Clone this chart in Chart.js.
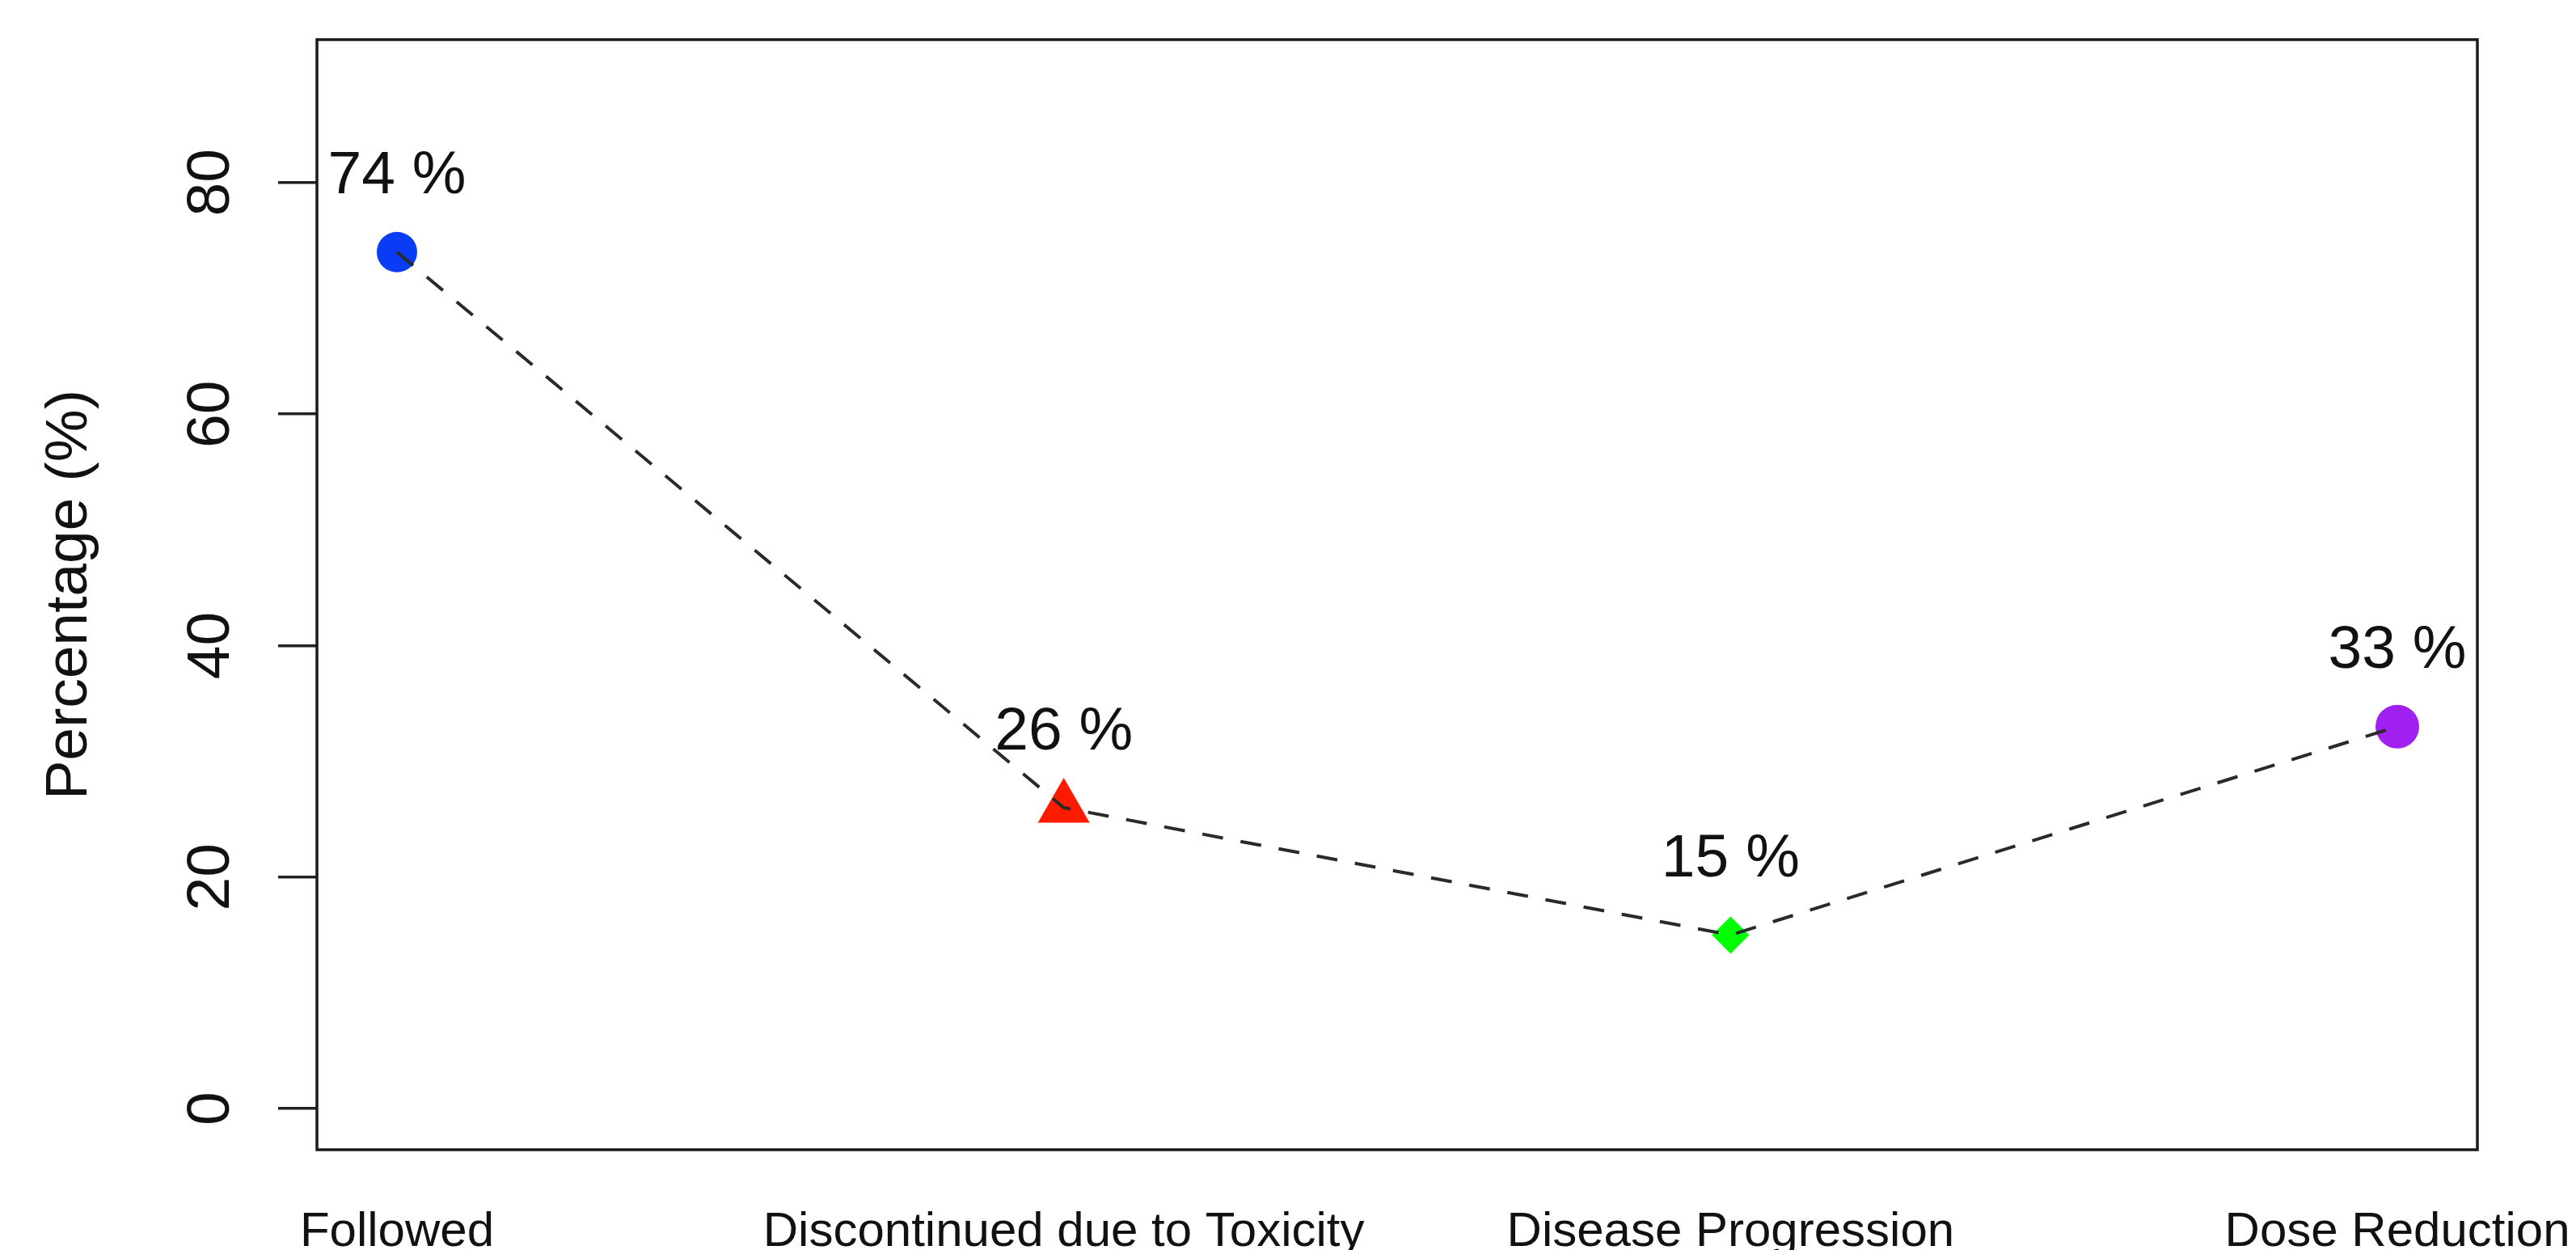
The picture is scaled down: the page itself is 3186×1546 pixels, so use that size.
<!DOCTYPE html>
<html>
<head>
<meta charset="utf-8">
<script src="https://cdn.jsdelivr.net/npm/chart.js@4.4.1/dist/chart.umd.min.js"></script>
<style>
  html, body { margin: 0; padding: 0; background: #ffffff; }
  #wrap { width: 3186px; height: 1546px; }
</style>
</head>
<body>
<div id="wrap"><canvas id="chart" width="3186" height="1546"></canvas></div>
<script>
const categories = ["Followed", "Discontinued due to Toxicity", "Disease Progression", "Dose Reduction"];
const percentages = [74, 26, 15, 33];
const pointLabels = ["74 %", "26 %", "15 %", "33 %"];
const yTicks = [0, 20, 40, 60, 80];
const boxedPoints = [false, true, true, false];

const markerColors = ["#0a3cf5", "#ff1a00", "#00ff00", "#a020f0"];
const markerStyles = ["circle", "triangle", "rectRot", "circle"];
const markerSizes = [25, 37, 23, 27];

const font = '"Liberation Sans", Arial, Helvetica, sans-serif';
const ink = "#111111";

// R-style axis limits: ylim = c(0, max * 1.2), extended by 4% each side
const yTop = Math.max(...percentages) * 1.2;
const yPad = yTop * 0.04;
const xPad = (categories.length - 1) * 0.04;
const labelLift = 6.5;

const points = percentages.map((v, i) => ({ x: i + 1, y: v }));

const framePlugin = {
  id: "frame",
  afterDatasetsDraw(chart) {
    const { ctx, chartArea: a, scales: { x, y } } = chart;
    ctx.save();
    ctx.strokeStyle = "#1a1a1a";
    ctx.lineWidth = 3.5;
    ctx.strokeRect(a.left, a.top, a.right - a.left, a.bottom - a.top);

    ctx.fillStyle = ink;
    ctx.font = `75px ${font}`;
    ctx.textAlign = "center";
    ctx.textBaseline = "middle";
    percentages.forEach((v, i) => {
      ctx.fillText(pointLabels[i], x.getPixelForValue(i + 1), y.getPixelForValue(v + labelLift));
    });
    ctx.restore();
  }
};

new Chart(document.getElementById("chart"), {
  type: "line",
  data: {
    datasets: [
      {
        data: points,
        borderColor: "#2a2a2a",
        borderWidth: 4,
        borderDash: [26, 22],
        pointRadius: 0,
        fill: false,
        tension: 0,
        order: 0
      },
      {
        data: points.map((p, i) => (boxedPoints[i] ? p : null)),
        showLine: false,
        pointStyle: "rect",
        pointRadius: 30,
        pointBorderColor: "#b5b5b5",
        pointBorderWidth: 2,
        pointBackgroundColor: "rgba(0,0,0,0)",
        order: 1
      },
      {
        data: points,
        showLine: false,
        pointStyle: markerStyles,
        pointRadius: markerSizes,
        pointBackgroundColor: markerColors,
        pointBorderColor: markerColors,
        pointBorderWidth: 0,
        order: 2
      }
    ]
  },
  options: {
    responsive: false,
    animation: false,
    events: [],
    devicePixelRatio: 1,
    layout: { padding: { top: 49, right: 122, left: 0, bottom: 0 } },
    plugins: {
      legend: { display: false },
      tooltip: { enabled: false }
    },
    scales: {
      x: {
        type: "linear",
        min: 1 - xPad,
        max: categories.length + xPad,
        grid: { display: false, drawTicks: false },
        border: { display: false },
        afterBuildTicks(scale) {
          scale.ticks = categories.map((c, i) => ({ value: i + 1 }));
        },
        afterFit(scale) {
          scale.height = 124;
          scale.paddingLeft = 0;
          scale.paddingRight = 0;
        },
        ticks: {
          autoSkip: false,
          maxRotation: 0,
          minRotation: 0,
          padding: 66,
          color: ink,
          font: { family: font, size: 60 },
          callback: (v) => categories[v - 1]
        }
      },
      y: {
        type: "linear",
        min: -yPad,
        max: yTop + yPad,
        grid: {
          drawOnChartArea: false,
          drawTicks: true,
          tickLength: 48,
          color: "#222222",
          lineWidth: 3.5
        },
        border: { display: false },
        afterBuildTicks(scale) {
          scale.ticks = yTicks.map((v) => ({ value: v }));
        },
        afterFit(scale) {
          scale.width = 392;
          scale.paddingTop = 0;
          scale.paddingBottom = 0;
        },
        ticks: {
          minRotation: 90,
          maxRotation: 90,
          crossAlign: "center",
          padding: 40,
          color: ink,
          font: { family: font, size: 75 }
        },
        title: {
          display: true,
          text: "Percentage (%)",
          color: ink,
          font: { family: font, size: 73 },
          padding: { top: 43, bottom: 0 }
        }
      }
    }
  },
  plugins: [framePlugin]
});
</script>
</body>
</html>
